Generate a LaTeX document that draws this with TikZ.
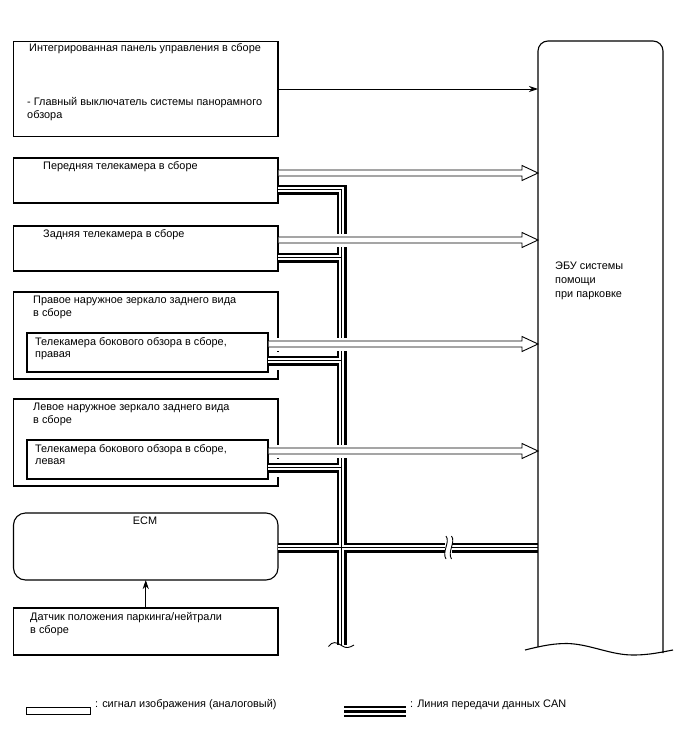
\documentclass[tikz,border=0pt]{standalone}
\usepackage{fontspec}
\setmainfont{Liberation Sans}
\usetikzlibrary{arrows.meta}
\begin{document}
\begin{tikzpicture}[x=1pt,y=-1pt,
  box/.style={draw, line width=1.1pt, minimum width=264.5pt, inner sep=0pt, outer sep=0pt},
  ibox/.style={draw, line width=1.1pt, minimum width=241pt, minimum height=39pt, inner sep=0pt, outer sep=0pt},
  lbl/.style={anchor=base west, inner sep=0pt, font=\fontsize{10.9}{12}\selectfont},
  canA/.style={line width=10pt, black},
  canB/.style={line width=5pt, white},
  canC/.style={line width=0.9pt, black},
  anl/.style={draw, fill=white, line width=0.9pt},
  thin/.style={draw, line width=0.9pt, -{Stealth[length=9pt,width=6pt]}},
  halo/.style={fill=white, draw=none}
]
\useasboundingbox (0,0) rectangle (688,755);
% boxes
\node[box, minimum height=95pt] (panel) at (145.75,89) {};
\node[box, minimum height=45pt] (fcam) at (145.75,180.5) {};
\node[box, minimum height=45pt] (rcam) at (145.75,248.5) {};
\node[box, minimum height=87pt] (rmir) at (145.75,335.5) {};
\node[ibox] (rside) at (147.5,352.5) {};
\node[box, minimum height=87pt] (lmir) at (145.75,442.5) {};
\node[ibox] (lside) at (147.5,459.5) {};
\node[box, minimum height=67pt, rounded corners=12pt] (ecm) at (145.75,546.5) {};
\node[box, minimum height=47pt] (sens) at (145.75,631.5) {};
% ports
\coordinate (ecuL) at (538,0);
\coordinate (trunk) at (341.5,0);
\coordinate (pP) at (278,89);
\coordinate (fC) at (278,189.5);
\coordinate (rC) at (278,257.5);
\coordinate (sC) at (268,360.5);
\coordinate (lC) at (268,467.5);
\coordinate (eC) at (278,547.5);
\coordinate (tEnd) at (341.5,645);
% CAN halos through outer mirror edges
\draw[white, line width=18pt] (270,360.5) -- (300,360.5);
\draw[white, line width=18pt] (270,467.5) -- (300,467.5);
% CAN bus, three passes
\newcommand\canall[1]{%
  \draw[#1] (fC) -- (fC -| trunk) -- (tEnd);
  \draw[#1] (rC) -- (rC -| trunk);
  \draw[#1] (sC) -- (sC -| trunk);
  \draw[#1] (lC) -- (lC -| trunk);
  \draw[#1] (eC) -- (eC -| ecuL);
}
\canall{canA}
\canall{canB}
\canall{canC}
% analog signal arrows
\newcommand\anarrow[2]{%
  \fill[halo] (#1,#2-6.5) rectangle (521,#2+6.5);
  \path[anl] (#1,#2-3) -- (522,#2-3) -- (522,#2-7.5) -- (538,#2) -- (522,#2+7.5) -- (522,#2+3) -- (#1,#2+3);
}
\anarrow{278.6}{173}
\anarrow{278.6}{240}
\anarrow{268.6}{344}
\anarrow{268.6}{451}
% break on ECM line
\fill[white] (444.5,540) rectangle (451.5,555);
\draw[line width=0.9pt] (446,536) .. controls (450.5,542) and (441.5,552) .. (446,559);
\draw[line width=0.9pt] (451.5,536) .. controls (456,542) and (447,552) .. (451.5,559);
% trunk end break
\fill[white] (335,645.5) rectangle (348,652);
\draw[line width=0.9pt] (328.5,646.5) .. controls (332,641) and (337,642) .. (341.5,645.5) .. controls (346,649) and (350,647.5) .. (354,645);
% ECU
\draw[line width=1.1pt, rounded corners=10pt] (538,647) -- (538,41) -- (663,41) -- (663,653);
\draw[line width=1.1pt] (525,650) .. controls (545,645) and (555,643.5) .. (567,643.5) .. controls (590,644) and (610,655) .. (633,655) .. controls (650,655) and (662,652) .. (673,650);
% plain arrows
\draw[thin] (pP) -- (pP -| ecuL);
\draw[thin] (sens.north) -- (ecm.south);
% texts
\node[lbl] (t1) at (29,51.8) {Интегрированная панель управления в сборе};
\node[lbl] (t2) at (27,105.3) {- Главный выключатель системы панорамного};
\node[lbl] (t3) at (27,118.5) {обзора};
\node[lbl] (t4) at (43,169.8) {Передняя телекамера в сборе};
\node[lbl] (t5) at (43,237.3) {Задняя телекамера в сборе};
\node[lbl] (t6) at (33,303.8) {Правое наружное зеркало заднего вида};
\node[lbl] (t7) at (33,316.8) {в сборе};
\node[lbl] (t8) at (35,345.3) {Телекамера бокового обзора в сборе,};
\node[lbl] (t9) at (35,357.5) {правая};
\node[lbl] (t10) at (33,410.8) {Левое наружное зеркало заднего вида};
\node[lbl] (t11) at (33,423.8) {в сборе};
\node[lbl] (t12) at (35,452.3) {Телекамера бокового обзора в сборе,};
\node[lbl] (t13) at (35,464.5) {левая};
\node[lbl, anchor=base] (t14) at (145,524.8) {ECM};
\node[lbl] (t15) at (30,620.8) {Датчик положения паркинга/нейтрали};
\node[lbl] (t16) at (30,633.8) {в сборе};
\node[lbl] (t17) at (555,269.8) {ЭБУ системы};
\node[lbl] (t18) at (555,283.8) {помощи};
\node[lbl] (t19) at (555,297.3) {при парковке};
% legend
\node[draw, line width=0.9pt, minimum width=64pt, minimum height=7pt, inner sep=0pt] (lgA) at (58,710.5) {};
\node[lbl] (lgAt) at (95,707.5) {: сигнал изображения (аналоговый)};
\coordinate (lgC1) at (344,707);
\coordinate (lgC2) at (344,711.5);
\coordinate (lgC3) at (344,716);
\draw[line width=2.2pt] (lgC1) -- ++(62,0);
\draw[line width=2.2pt] (lgC2) -- ++(62,0);
\draw[line width=2.2pt] (lgC3) -- ++(62,0);
\node[lbl] (lgCt) at (410,707.5) {: Линия передачи данных CAN};
\end{tikzpicture}
\end{document}
